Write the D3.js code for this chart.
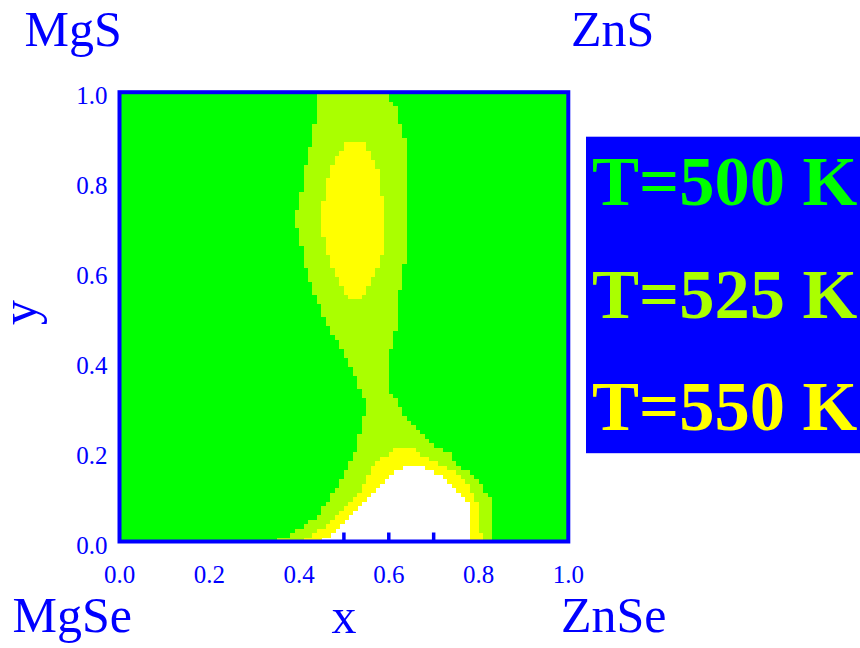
<!DOCTYPE html>
<html>
<head>
<meta charset="utf-8">
<script src="https://cdn.jsdelivr.net/npm/d3@7"></script>
<style>
  html, body { margin: 0; padding: 0; background: #ffffff; }
  text { font-family: "Liberation Serif", "Times New Roman", serif; }
</style>
</head>
<body>
<div id="chart"></div>
<script>
// Axis ticks (composition fractions)
const xTicks = [0.0, 0.2, 0.4, 0.6, 0.8, 1.0];
const yTicks = [0.0, 0.2, 0.4, 0.6, 0.8, 1.0];
const minorTicks = [0.1, 0.2, 0.3, 0.4, 0.5, 0.6, 0.7, 0.8, 0.9];

// Corner compounds of the quaternary square
const cornerLabels = ['MgS', 'ZnS', 'MgSe', 'ZnSe'];

// Legend
const legendLabels = ['T=500 K', 'T=525 K', 'T=550 K'];
const legendColors = ['#00ff00', '#aaff00', '#ffff00'];

// Grid resolution of the computed map
const gridSize = 100;

// Boundary of the T=525 K region, [x, y]
const region525 = [
  [0.436, 1.0], [0.602, 1.0], [0.602, 0.99], [0.614, 0.97], [0.623, 0.94],
  [0.634, 0.90], [0.643, 0.86], [0.643, 0.66], [0.634, 0.61], [0.623, 0.55],
  [0.623, 0.51], [0.614, 0.47], [0.602, 0.42], [0.602, 0.34], [0.614, 0.32],
  [0.623, 0.30], [0.634, 0.285], [0.643, 0.275], [0.654, 0.265], [0.663, 0.255],
  [0.674, 0.245], [0.683, 0.235], [0.694, 0.225], [0.705, 0.215], [0.716, 0.205],
  [0.736, 0.195], [0.744, 0.185], [0.755, 0.175], [0.763, 0.165], [0.783, 0.155],
  [0.794, 0.145], [0.803, 0.13], [0.815, 0.115], [0.823, 0.10], [0.832, 0.09],
  [0.832, 0.01], [0.823, 0.0],
  [0.355, 0.0], [0.355, 0.008], [0.375, 0.013], [0.395, 0.025], [0.416, 0.04],
  [0.436, 0.055], [0.447, 0.065], [0.456, 0.08], [0.47, 0.10], [0.487, 0.122],
  [0.496, 0.14], [0.507, 0.16], [0.516, 0.18], [0.527, 0.20], [0.537, 0.245],
  [0.548, 0.29], [0.548, 0.31], [0.537, 0.335], [0.527, 0.365], [0.516, 0.385],
  [0.507, 0.405], [0.496, 0.425], [0.487, 0.445], [0.476, 0.46], [0.467, 0.475],
  [0.456, 0.50], [0.447, 0.525], [0.436, 0.545], [0.427, 0.57], [0.416, 0.605],
  [0.407, 0.65], [0.395, 0.70], [0.395, 0.74], [0.407, 0.79], [0.416, 0.845],
  [0.427, 0.89], [0.436, 0.93]
];

// Upper T=550 K island
const region550Upper = [
  [0.507, 0.892], [0.543, 0.892], [0.554, 0.875], [0.563, 0.855], [0.574, 0.835],
  [0.583, 0.81], [0.583, 0.78], [0.594, 0.74], [0.594, 0.67], [0.583, 0.635],
  [0.574, 0.605], [0.563, 0.588], [0.554, 0.566], [0.543, 0.545], [0.543, 0.537],
  [0.527, 0.537], [0.507, 0.55], [0.496, 0.566], [0.487, 0.587], [0.476, 0.607],
  [0.467, 0.63], [0.456, 0.67], [0.447, 0.72], [0.456, 0.77], [0.467, 0.815],
  [0.476, 0.843], [0.487, 0.858], [0.496, 0.875]
];

// Lower T=550 K lobe
const region550Lower = [
  [0.608, 0.211], [0.663, 0.211], [0.663, 0.20], [0.683, 0.19], [0.705, 0.18],
  [0.723, 0.17], [0.734, 0.162], [0.754, 0.155], [0.763, 0.145], [0.774, 0.13],
  [0.784, 0.11], [0.794, 0.09], [0.803, 0.075], [0.806, 0.0],
  [0.407, 0.0], [0.407, 0.008], [0.426, 0.013], [0.436, 0.023], [0.456, 0.034],
  [0.467, 0.045], [0.476, 0.055], [0.487, 0.065], [0.497, 0.075], [0.507, 0.085],
  [0.517, 0.095], [0.527, 0.105], [0.537, 0.115], [0.547, 0.13], [0.557, 0.15],
  [0.567, 0.17], [0.588, 0.19], [0.608, 0.20]
];

// Region still unmixed above 550 K (left blank)
const regionOpen = [
  [0.629, 0.17], [0.673, 0.17], [0.703, 0.155], [0.714, 0.146], [0.734, 0.136],
  [0.744, 0.126], [0.754, 0.115], [0.763, 0.105], [0.774, 0.09], [0.784, 0.075],
  [0.784, 0.0], [0.447, 0.0], [0.447, 0.005], [0.467, 0.013], [0.476, 0.023],
  [0.487, 0.034], [0.497, 0.045], [0.507, 0.055], [0.517, 0.065], [0.527, 0.075],
  [0.537, 0.085], [0.547, 0.095], [0.557, 0.105], [0.567, 0.115], [0.577, 0.126],
  [0.588, 0.136], [0.597, 0.146], [0.608, 0.155], [0.629, 0.165]
];

class PhaseMapChart {
  constructor(containerId) {
    this.containerId = containerId;
    this.width = 860;
    this.height = 648;
    this.plot = { left: 119.5, right: 568.3, top: 92.2, bottom: 541.5 };
    this.blue = '#0000ff';
  }

  cellColor(x, y) {
    const p = [x, y];
    if (d3.polygonContains(regionOpen, p)) return null;
    if (d3.polygonContains(region550Upper, p) || d3.polygonContains(region550Lower, p)) return legendColors[2];
    if (d3.polygonContains(region525, p)) return legendColors[1];
    return legendColors[0];
  }

  render() {
    const svg = d3.select(`#${this.containerId}`)
      .append('svg')
      .attr('width', this.width)
      .attr('height', this.height);

    const xScale = d3.scaleLinear().domain([0, 1]).range([this.plot.left, this.plot.right]);
    const yScale = d3.scaleLinear().domain([0, 1]).range([this.plot.bottom, this.plot.top]);

    // Inner ticks, drawn under the map so only the blank region shows them
    svg.append('g')
      .selectAll('line')
      .data(minorTicks)
      .enter()
      .append('line')
      .attr('x1', d => xScale(d))
      .attr('x2', d => xScale(d))
      .attr('y1', yScale(0))
      .attr('y2', yScale(0) - 9)
      .attr('stroke', this.blue)
      .attr('stroke-width', 3.5);

    // Map cells
    const cells = [];
    for (let i = 0; i < gridSize; i++) {
      for (let j = 0; j < gridSize; j++) {
        const cx = (i + 0.5) / gridSize;
        const cy = (j + 0.5) / gridSize;
        const color = this.cellColor(cx, cy);
        if (color) cells.push({ x0: i / gridSize, y0: j / gridSize, color });
      }
    }
    const step = 1 / gridSize;
    svg.append('g')
      .attr('shape-rendering', 'crispEdges')
      .selectAll('rect')
      .data(cells)
      .enter()
      .append('rect')
      .attr('x', d => xScale(d.x0))
      .attr('y', d => yScale(d.y0 + step))
      .attr('width', xScale(step) - xScale(0) + 0.6)
      .attr('height', yScale(0) - yScale(step) + 0.6)
      .attr('fill', d => d.color);

    // Frame
    svg.append('rect')
      .attr('x', xScale(0))
      .attr('y', yScale(1))
      .attr('width', xScale(1) - xScale(0))
      .attr('height', yScale(0) - yScale(1))
      .attr('fill', 'none')
      .attr('stroke', this.blue)
      .attr('stroke-width', 4);

    // Tick labels
    svg.append('g')
      .selectAll('text')
      .data(xTicks)
      .enter()
      .append('text')
      .attr('x', d => xScale(d))
      .attr('y', 583)
      .attr('text-anchor', 'middle')
      .style('font-size', '25px')
      .style('fill', this.blue)
      .text(d => d.toFixed(1));

    svg.append('g')
      .selectAll('text')
      .data(yTicks)
      .enter()
      .append('text')
      .attr('x', 107.5)
      .attr('y', d => yScale(d) + 12)
      .attr('text-anchor', 'end')
      .style('font-size', '25px')
      .style('fill', this.blue)
      .text(d => d.toFixed(1));

    // Axis titles
    svg.append('text')
      .attr('x', (xScale(0) + xScale(1)) / 2)
      .attr('y', 632.5)
      .attr('text-anchor', 'middle')
      .style('font-size', '50px')
      .style('fill', this.blue)
      .text('x');

    svg.append('text')
      .attr('transform', 'translate(36,312.5) rotate(-90)')
      .attr('text-anchor', 'middle')
      .style('font-size', '50px')
      .style('fill', this.blue)
      .text('y');

    // Corner compounds
    const corners = [
      { x: 24.5, y: 46 }, { x: 571, y: 46 },
      { x: 12.5, y: 632 }, { x: 561, y: 632 }
    ];
    svg.append('g')
      .selectAll('text')
      .data(cornerLabels)
      .enter()
      .append('text')
      .attr('x', (d, i) => corners[i].x)
      .attr('y', (d, i) => corners[i].y)
      .style('font-size', '50px')
      .style('fill', this.blue)
      .text(d => d);

    // Legend box
    const legend = svg.append('g');
    legend.append('rect')
      .attr('x', 586)
      .attr('y', 136.7)
      .attr('width', 280)
      .attr('height', 316.5)
      .attr('fill', this.blue);

    legend.selectAll('text')
      .data(legendLabels)
      .enter()
      .append('text')
      .attr('x', 592)
      .attr('y', (d, i) => 205 + i * 112.5)
      .style('font-size', '70.5px')
      .style('font-weight', 'bold')
      .style('fill', (d, i) => legendColors[i])
      .text(d => d);
  }
}

const chart = new PhaseMapChart('chart');
chart.render();
</script>
</body>
</html>
